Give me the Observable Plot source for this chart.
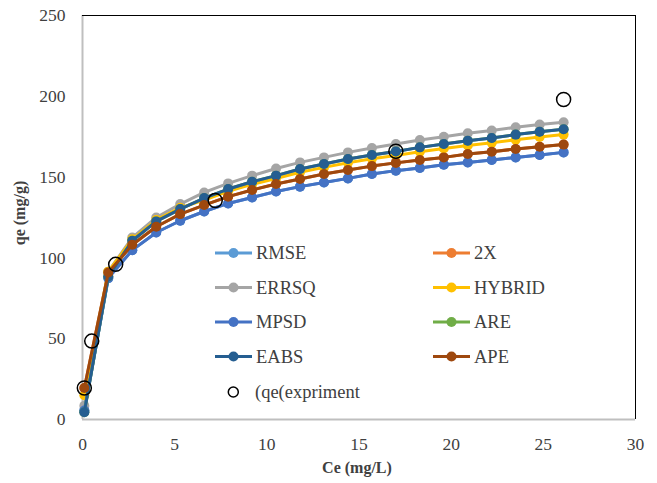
<!DOCTYPE html>
<html><head><meta charset="utf-8">
<script src="https://cdn.jsdelivr.net/npm/d3@7"></script>
<script src="https://cdn.jsdelivr.net/npm/@observablehq/plot@0.6"></script>
<style>
body{margin:0;background:#fff}
#chart{width:657px;height:483px}
</style>
</head><body><div id="chart"></div>
<script>
// ---- data ----
const ce = [0.1,1.4,2.7,4.0,5.3,6.6,7.9,9.2,10.5,11.8,13.1,14.4,15.7,17.0,18.3,19.6,20.9,22.2,23.5,24.8,26.1];
const seriesNames = ["RMSE","2X","ERRSQ","HYBRID","MPSD","ARE","EABS","APE"];
const MPSD   = [5.5,87.5,104.8,115.7,123.0,128.7,133.7,137.4,141.1,144.1,146.7,149.2,151.9,154.0,155.6,157.7,159.1,160.6,162.2,163.7,165.3];
const RMSE   = MPSD.slice();
const APE    = [19.5,91.0,108.1,119.3,127.1,132.7,137.9,142.0,145.7,148.8,151.9,154.4,156.8,158.8,160.6,162.2,164.3,165.7,167.4,168.8,170.1];
const X2     = APE.slice();
const ERRSQ  = [8.5,91.5,112.6,125.0,133.3,140.5,146.1,150.9,155.3,159.1,162.2,165.3,168.0,170.5,173.0,175.0,177.1,178.8,180.8,182.5,183.9];
const EABS   = [4.5,88.5,110.6,122.6,130.2,137.0,142.6,147.1,150.9,155.0,158.1,161.2,163.7,165.9,168.4,170.5,172.5,174.2,176.3,178.1,179.6];
const ARE    = EABS.slice();
const HYBRID = [15.0,91.5,111.5,123.5,131.0,135.8,141.2,145.5,149.1,153.0,156.0,158.9,161.3,163.4,165.7,167.7,169.6,171.2,173.1,174.8,176.3];
const seriesValues = [RMSE, X2, ERRSQ, HYBRID, MPSD, ARE, EABS, APE];
const seriesColors = ["#5B9BD5","#ED7D31","#A5A5A5","#FFC000","#4472C4","#70AD47","#255E91","#9E480E"];
const expCe = [0.1,0.5,1.8,7.2,17.0,26.1];
const expQe = [19.5,48.5,96.0,135.5,166.0,198.0];
const expName = "(qe(expriment";
const xTicks = [0,5,10,15,20,25,30];
const yTicks = [0,50,100,150,200,250];
const xTitle = "Ce (mg/L)";
const yTitle = "qe (mg/g)";

// ---- chart ----
const W = 657, H = 483;
const mL = 82, mR = 22, mT = 15, mB = 64;
const font = "Liberation Serif, Times New Roman, serif";

const marks = [
  Plot.ruleY([0], {stroke:"#BFBFBF", strokeWidth:2}),
  Plot.ruleX([0], {stroke:"#BFBFBF", strokeWidth:2}),
  Plot.ruleY([250], {stroke:"#000", strokeWidth:1}),
  Plot.ruleX([30], {stroke:"#000", strokeWidth:1})
];
seriesNames.forEach((name, i) => {
  const rows = ce.map((c, j) => ({ce:c, q:seriesValues[i][j]}));
  marks.push(Plot.line(rows, {x:"ce", y:"q", stroke:seriesColors[i], strokeWidth:3}));
  marks.push(Plot.dot(rows, {x:"ce", y:"q", r:5, fill:seriesColors[i], stroke:"none"}));
});
const expRows = expCe.map((c, j) => ({ce:c, q:expQe[j]}));
marks.push(Plot.dot(expRows, {x:"ce", y:"q", r:7, stroke:"#000", strokeWidth:1.5, fill:"none"}));
marks.push(Plot.axisX({ticks:xTicks, tickSize:0, tickPadding:18, label:null, fontSize:17.5, fontFamily:font}));
marks.push(Plot.axisY({ticks:yTicks, tickSize:0, tickPadding:17, label:null, fontSize:17.5, fontFamily:font}));

const chart = Plot.plot({
  width:W, height:H,
  marginLeft:mL, marginRight:mR, marginTop:mT, marginBottom:mB,
  style:{fontFamily:font, fontSize:"17.5px", color:"#404040", background:"#fff", overflow:"visible"},
  x:{domain:[0,30]},
  y:{domain:[0,250]},
  marks
});
document.getElementById("chart").appendChild(chart);

// ---- titles & legend ----
const svg = d3.select(chart);
svg.append("text").attr("x", 357).attr("y", 473).attr("text-anchor","middle")
  .attr("font-family", font).attr("font-size", 16).attr("font-weight","bold").attr("fill","#404040").text(xTitle);
svg.append("text").attr("transform","translate(25,213) rotate(-90)").attr("text-anchor","middle")
  .attr("font-family", font).attr("font-size", 16).attr("font-weight","bold").attr("fill","#404040").text(yTitle);

const lg = svg.append("g").attr("font-family", font).attr("font-size", 18.5).attr("fill","#404040").attr("text-anchor","start");
const colX = [215, 433], rowY = [253, 287.5, 322, 356.5];
seriesNames.forEach((name, i) => {
  const cx = colX[i % 2], cy = rowY[Math.floor(i / 2)];
  lg.append("line").attr("x1", cx).attr("x2", cx + 37).attr("y1", cy).attr("y2", cy)
    .attr("stroke", seriesColors[i]).attr("stroke-width", 3);
  lg.append("circle").attr("cx", cx + 18.5).attr("cy", cy).attr("r", 5).attr("fill", seriesColors[i]);
  lg.append("text").attr("x", cx + 41).attr("y", cy).attr("dy","0.33em").attr("text-anchor","start").text(name);
});
lg.append("circle").attr("cx", 233.3).attr("cy", 392).attr("r", 5).attr("fill","none").attr("stroke","#000").attr("stroke-width",1.5);
lg.append("text").attr("x", 255).attr("y", 392).attr("dy","0.33em").attr("text-anchor","start").text(expName);
</script>
</body></html>
